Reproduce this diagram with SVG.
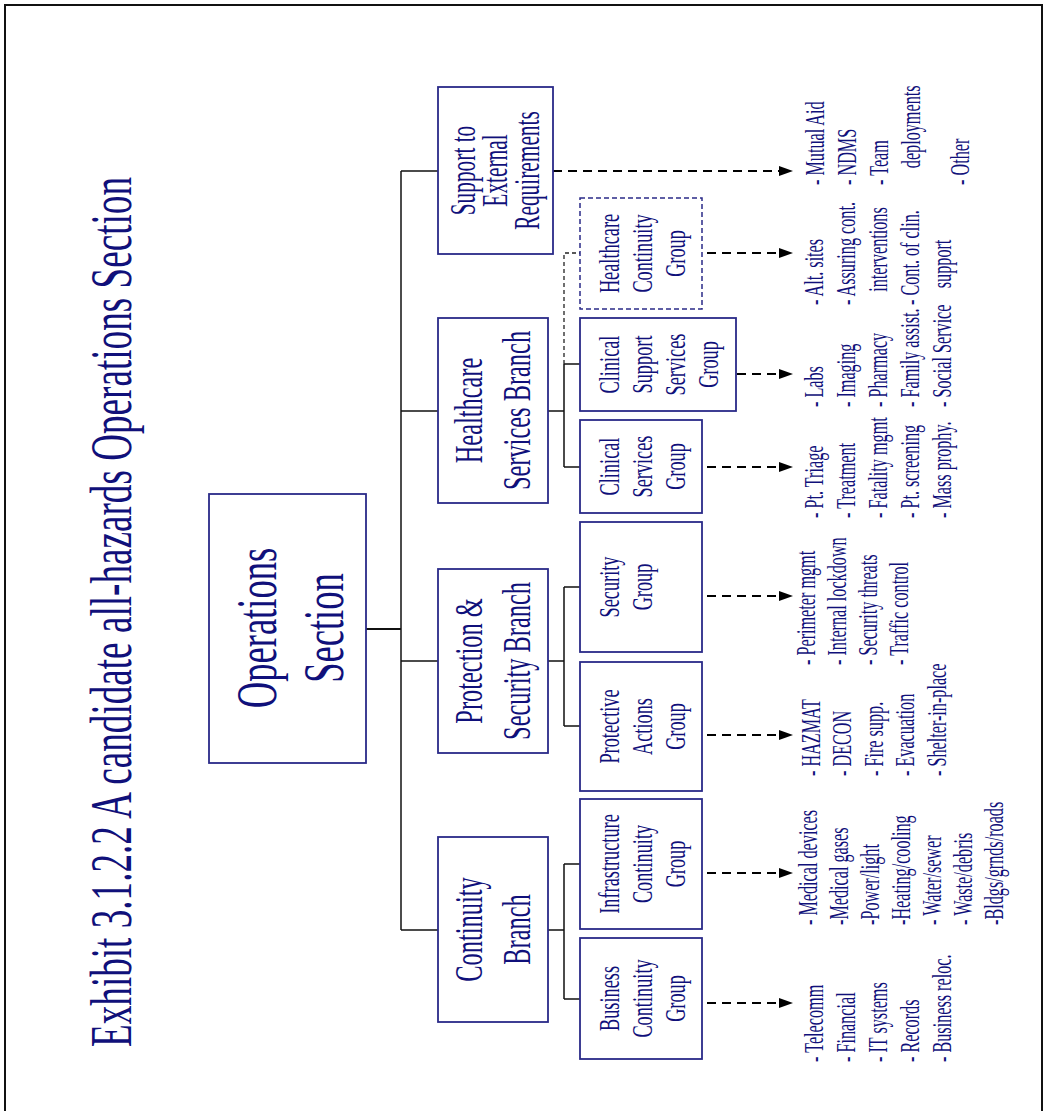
<svg xmlns="http://www.w3.org/2000/svg" width="1044" height="1111" viewBox="0 0 1044 1111">
<style>
.t{font-family:"Liberation Serif","Times New Roman",serif;fill:#10107a}
.title{font-size:59px}
.ops{font-size:58px}
.br{font-size:40px}
.sup{font-size:35px}
.grp{font-size:30px}
.item{font-size:27px}
.box{fill:#fff;stroke:#2a2a88;stroke-width:1.8}
.dbox{fill:#fff;stroke:#2a2a88;stroke-width:1.5;stroke-dasharray:5,3}
.ln{fill:none;stroke:#111;stroke-width:1.5}
.dln{fill:none;stroke:#222;stroke-width:1.3;stroke-dasharray:4,3}
.arr{fill:none;stroke:#000;stroke-width:1.8;stroke-dasharray:9,6}
</style>
<defs>
<marker id="ah" markerUnits="userSpaceOnUse" markerWidth="14" markerHeight="10" refX="0" refY="5" orient="auto">
<path d="M0,0 L14,5 L0,10 z" fill="#000"/>
</marker>
</defs>
<rect x="0" y="0" width="1044" height="1111" fill="#fff"/>
<rect x="5" y="5" width="1037" height="1110" fill="none" stroke="#111" stroke-width="2"/>

<text class="t title" text-anchor="end" transform="translate(131,177) rotate(-90) scale(0.63,1)">Exhibit 3.1.2.2 A candidate all-hazards Operations Section</text>

<g id="connectors">
<path class="ln" d="M366,629 H401" style="stroke-width:2"/>
<path class="ln" d="M401,171 V930"/>
<path class="ln" d="M401,171 H438 M401,411 H438 M401,661 H438 M401,930 H438"/>
<path class="ln" d="M548,411 H564 M564,364 V467 M564,364 H580 M564,467 H580"/>
<path class="dln" d="M564,364 V253 H580"/>
<path class="ln" d="M548,661 H564 M564,587 V726 M564,587 H580 M564,726 H580"/>
<path class="ln" d="M548,930 H564 M564,864 V999 M564,864 H580 M564,999 H580"/>
<path class="arr" marker-end="url(#ah)" d="M553,171 H779"/>
<path class="arr" marker-end="url(#ah)" d="M707,253 H779"/>
<path class="arr" marker-end="url(#ah)" d="M737,374 H779"/>
<path class="arr" marker-end="url(#ah)" d="M707,467 H779"/>
<path class="arr" marker-end="url(#ah)" d="M707,596 H779"/>
<path class="arr" marker-end="url(#ah)" d="M707,735 H779"/>
<path class="arr" marker-end="url(#ah)" d="M707,873 H779"/>
<path class="arr" marker-end="url(#ah)" d="M707,1003 H779"/>
</g>

<g id="operations-section">
<rect class="box" x="209" y="494" width="157" height="269"/>
<text class="t ops" text-anchor="middle" transform="translate(276,628) rotate(-90) scale(0.63,1)"><tspan x="0" y="0">Operations</tspan><tspan x="0" y="67">Section</tspan></text>
</g>

<g id="support-external">
<rect class="box" x="438" y="87" width="115" height="167"/>
<text class="t sup" text-anchor="middle" transform="translate(475,170.5) rotate(-90) scale(0.61,1)"><tspan x="0" y="0">Support to</tspan><tspan x="0" y="32">External</tspan><tspan x="0" y="64">Requirements</tspan></text>
</g>

<g id="healthcare-branch">
<rect class="box" x="438" y="318" width="110" height="185"/>
<text class="t br" text-anchor="middle" transform="translate(482,410.5) rotate(-90) scale(0.61,1)"><tspan x="0" y="0">Healthcare</tspan><tspan x="0" y="48">Services Branch</tspan></text>
</g>

<g id="protection-branch">
<rect class="box" x="438" y="569" width="110" height="184"/>
<text class="t br" text-anchor="middle" transform="translate(482,661) rotate(-90) scale(0.61,1)"><tspan x="0" y="0">Protection &amp;</tspan><tspan x="0" y="48">Security Branch</tspan></text>
</g>

<g id="continuity-branch">
<rect class="box" x="438" y="837" width="110" height="185"/>
<text class="t br" text-anchor="middle" transform="translate(482,929.5) rotate(-90) scale(0.61,1)"><tspan x="0" y="0">Continuity</tspan><tspan x="0" y="48">Branch</tspan></text>
</g>

<g id="healthcare-continuity-group">
<rect class="dbox" x="580" y="198" width="122" height="111"/>
<text class="t grp" text-anchor="middle" transform="translate(619,253.5) rotate(-90) scale(0.61,1)"><tspan x="0" y="0">Healthcare</tspan><tspan x="0" y="33">Continuity</tspan><tspan x="0" y="66">Group</tspan></text>
</g>

<g id="clinical-support-services-group">
<rect class="box" x="580" y="318" width="156" height="93"/>
<text class="t grp" text-anchor="middle" transform="translate(619,364.5) rotate(-90) scale(0.61,1)"><tspan x="0" y="0">Clinical</tspan><tspan x="0" y="33">Support</tspan><tspan x="0" y="66">Services</tspan><tspan x="0" y="99">Group</tspan></text>
</g>

<g id="clinical-services-group">
<rect class="box" x="580" y="420" width="122" height="93"/>
<text class="t grp" text-anchor="middle" transform="translate(619,466.5) rotate(-90) scale(0.61,1)"><tspan x="0" y="0">Clinical</tspan><tspan x="0" y="33">Services</tspan><tspan x="0" y="66">Group</tspan></text>
</g>

<g id="security-group">
<rect class="box" x="580" y="522" width="122" height="130"/>
<text class="t grp" text-anchor="middle" transform="translate(619,587) rotate(-90) scale(0.61,1)"><tspan x="0" y="0">Security</tspan><tspan x="0" y="33">Group</tspan></text>
</g>

<g id="protective-actions-group">
<rect class="box" x="580" y="662" width="122" height="129"/>
<text class="t grp" text-anchor="middle" transform="translate(619,726.5) rotate(-90) scale(0.61,1)"><tspan x="0" y="0">Protective</tspan><tspan x="0" y="33">Actions</tspan><tspan x="0" y="66">Group</tspan></text>
</g>

<g id="infrastructure-continuity-group">
<rect class="box" x="580" y="799" width="122" height="130"/>
<text class="t grp" text-anchor="middle" transform="translate(619,864) rotate(-90) scale(0.61,1)"><tspan x="0" y="0">Infrastructure</tspan><tspan x="0" y="33">Continuity</tspan><tspan x="0" y="66">Group</tspan></text>
</g>

<g id="business-continuity-group">
<rect class="box" x="580" y="938" width="122" height="121"/>
<text class="t grp" text-anchor="middle" transform="translate(619,998.5) rotate(-90) scale(0.61,1)"><tspan x="0" y="0">Business</tspan><tspan x="0" y="33">Continuity</tspan><tspan x="0" y="66">Group</tspan></text>
</g>

<g id="lists">
<text class="t item" transform="translate(824,185) rotate(-90) scale(0.6,1)"><tspan x="0" y="0">- Mutual Aid</tspan><tspan x="0" y="32">- NDMS</tspan><tspan x="0" y="64">- Team</tspan><tspan x="28" y="96">deployments</tspan><tspan x="0" y="145">- Other</tspan></text>
<text class="t item" transform="translate(823,305) rotate(-90) scale(0.6,1)"><tspan x="0" y="0">- Alt. sites</tspan><tspan x="0" y="32">- Assuring cont.</tspan><tspan x="22" y="64">interventions</tspan><tspan x="0" y="96">- Cont. of clin.</tspan><tspan x="28" y="128">support</tspan></text>
<text class="t item" transform="translate(823,407) rotate(-90) scale(0.6,1)"><tspan x="0" y="0">- Labs</tspan><tspan x="0" y="32">- Imaging</tspan><tspan x="0" y="64">- Pharmacy</tspan><tspan x="0" y="96">- Family assist.</tspan><tspan x="0" y="128">- Social Service</tspan></text>
<text class="t item" transform="translate(823,518) rotate(-90) scale(0.6,1)"><tspan x="0" y="0">- Pt. Triage</tspan><tspan x="0" y="32">- Treatment</tspan><tspan x="0" y="64">- Fatality mgmt</tspan><tspan x="0" y="96">- Pt. screening</tspan><tspan x="0" y="128">- Mass prophy.</tspan></text>
<text class="t item" transform="translate(815,665) rotate(-90) scale(0.6,1)"><tspan x="0" y="0">- Perimeter mgmt</tspan><tspan x="0" y="31">- Internal lockdown</tspan><tspan x="0" y="62">- Security threats</tspan><tspan x="0" y="93">- Traffic control</tspan></text>
<text class="t item" transform="translate(820,776) rotate(-90) scale(0.6,1)"><tspan x="0" y="0">- HAZMAT</tspan><tspan x="0" y="31.5">- DECON</tspan><tspan x="0" y="63">- Fire supp.</tspan><tspan x="0" y="94.5">- Evacuation</tspan><tspan x="0" y="126">- Shelter-in-place</tspan></text>
<text class="t item" transform="translate(817,925) rotate(-90) scale(0.6,1)"><tspan x="0" y="0">- Medical  devices</tspan><tspan x="0" y="31">-Medical gases</tspan><tspan x="0" y="62">-Power/light</tspan><tspan x="0" y="93">-Heating/cooling</tspan><tspan x="0" y="124">- Water/sewer</tspan><tspan x="0" y="155">- Waste/debris</tspan><tspan x="0" y="186">-Bldgs/grnds/roads</tspan></text>
<text class="t item" transform="translate(823,1062) rotate(-90) scale(0.6,1)"><tspan x="0" y="0">- Telecomm</tspan><tspan x="0" y="32">- Financial</tspan><tspan x="0" y="64">- IT systems</tspan><tspan x="0" y="96">- Records</tspan><tspan x="0" y="128">- Business reloc.</tspan></text>
</g>
</svg>
